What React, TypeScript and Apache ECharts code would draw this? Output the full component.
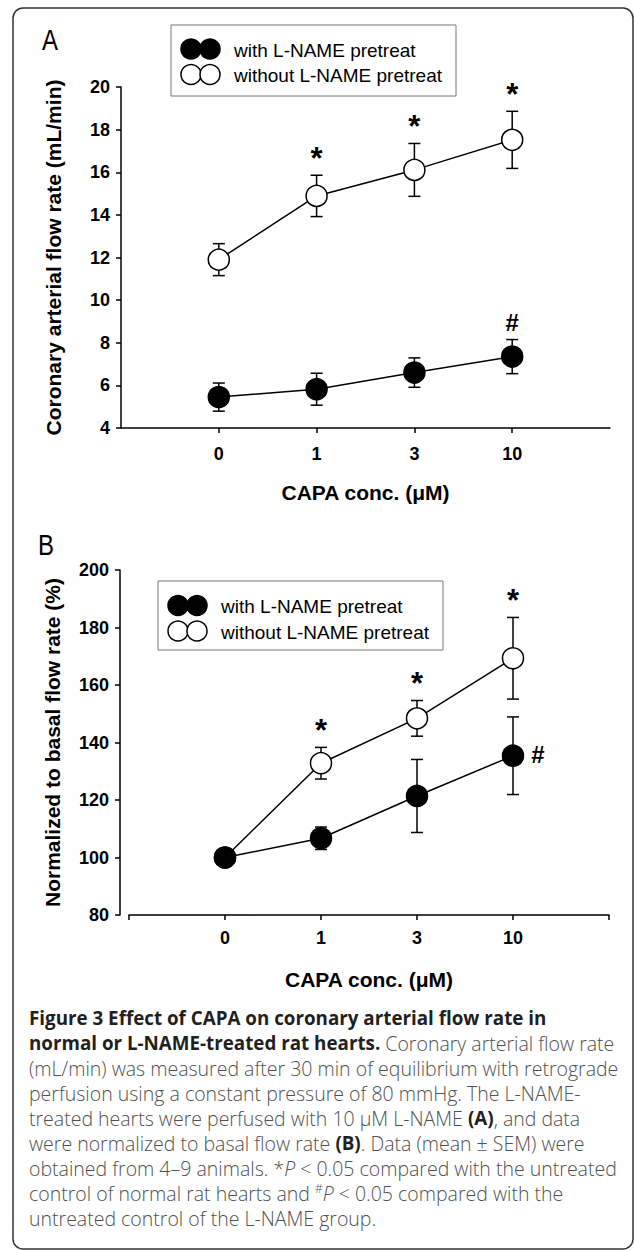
import React, { useEffect, useRef } from "react";
import * as echarts from "echarts";

// ---- data ----
const concLabels = ["0", "1", "3", "10"];
const catIndex = [0, 1, 2, 3];

// Panel A: coronary arterial flow rate (mL/min)
const aWithoutMean = [11.9, 14.89, 16.11, 17.52];
const aWithoutSem = [0.75, 0.97, 1.24, 1.34];
const aWithMean = [5.45, 5.82, 6.6, 7.35];
const aWithSem = [0.66, 0.75, 0.69, 0.8];
const aYTicks = { min: 4, max: 20, interval: 2 };

// Panel B: normalized to basal flow rate (%)
const bWithoutMean = [100, 132.8, 148.4, 169.3];
const bWithoutSem = [0, 5.5, 6.2, 14.2];
const bWithMean = [100, 106.7, 121.4, 135.4];
const bWithSem = [0, 3.9, 12.7, 13.5];
const bYTicks = { min: 80, max: 200, interval: 20 };

// significance marks: [category index, series ("with"/"without"), mark, placement]
const aMarks: [number, string, string, string][] = [
  [1, "without", "*", "above"],
  [2, "without", "*", "above"],
  [3, "without", "*", "above"],
  [3, "with", "#", "above"],
];
const bMarks: [number, string, string, string][] = [
  [1, "without", "*", "above"],
  [2, "without", "*", "above"],
  [3, "without", "*", "above"],
  [3, "with", "#", "right"],
];

const legendLabels = ["with L-NAME pretreat", "without L-NAME pretreat"];
const yTitleA = "Coronary arterial flow rate (mL/min)";
const yTitleB = "Normalized to basal flow rate (%)";
const xTitle = "CAPA conc. (\u03bcM)";

const captionLines = [
  "{b|Figure 3 Effect of CAPA on coronary arterial flow rate in}",
  "{b|normal or L-NAME-treated rat hearts.}{r| Coronary arterial flow rate}",
  "{r|(mL/min) was measured after 30 min of equilibrium with retrograde}",
  "{r|perfusion using a constant pressure of 80 mmHg. The L-NAME-}",
  "{r|treated hearts were perfused with 10 \u03bcM L-NAME }{b|(A)}{r|, and data}",
  "{r|were normalized to basal flow rate }{b|(B)}{r|. Data (mean \u00b1 SEM) were}",
  "{r|obtained from 4\u20139 animals. *}{i|P}{r| < 0.05 compared with the untreated}",
  "{r|control of normal rat hearts and }{s|#}{i|P}{r| < 0.05 compared with the}",
  "{r|untreated control of the L-NAME group.}",
];

const FONT = "'Liberation Sans', Arial, sans-serif";
const CAPFONT = "'Open Sans', 'Noto Sans', sans-serif";

function errorSeries(mean: number[], sem: number[], axisIdx: number) {
  return {
    type: "custom",
    xAxisIndex: axisIdx,
    yAxisIndex: axisIdx,
    z: 1,
    silent: true,
    data: catIndex.map((c, i) => [c, mean[i] - sem[i], mean[i] + sem[i]]),
    encode: { x: 0, y: [1, 2] },
    renderItem: (_p: any, api: any) => {
      const x = api.value(0);
      const lo = api.value(1);
      const hi = api.value(2);
      if (hi - lo <= 0) return { type: "group", children: [] };
      const pHi = api.coord([x, hi]);
      const pLo = api.coord([x, lo]);
      const cw = 6;
      const st = { stroke: "#000", lineWidth: 1.5 };
      return {
        type: "group",
        children: [
          { type: "line", shape: { x1: pHi[0], y1: pHi[1], x2: pLo[0], y2: pLo[1] }, style: st },
          { type: "line", shape: { x1: pHi[0] - cw, y1: pHi[1], x2: pHi[0] + cw, y2: pHi[1] }, style: st },
          { type: "line", shape: { x1: pLo[0] - cw, y1: pLo[1], x2: pLo[0] + cw, y2: pLo[1] }, style: st },
        ],
      };
    },
  };
}

function lineSeries(name: string, mean: number[], axisIdx: number, filled: boolean) {
  return {
    type: "line",
    name,
    xAxisIndex: axisIdx,
    yAxisIndex: axisIdx,
    z: filled ? 4 : 3,
    data: catIndex.map((c, i) => [c, mean[i]]),
    symbol: "circle",
    symbolSize: 21,
    lineStyle: { color: "#000", width: 1.5 },
    itemStyle: { color: filled ? "#000" : "#fff", borderColor: "#000", borderWidth: 1.5 },
  };
}

function markSeries(
  marks: [number, string, string, string][],
  withMean: number[],
  withSem: number[],
  withoutMean: number[],
  withoutSem: number[],
  axisIdx: number
) {
  return {
    type: "custom",
    xAxisIndex: axisIdx,
    yAxisIndex: axisIdx,
    z: 5,
    silent: true,
    data: marks.map((m) => {
      const i = m[0];
      const isWith = m[1] === "with";
      const mean = isWith ? withMean[i] : withoutMean[i];
      const sem = isWith ? withSem[i] : withoutSem[i];
      return [i, mean, mean + sem];
    }),
    encode: { x: 0, y: [1, 2] },
    renderItem: (p: any, api: any) => {
      const m = marks[p.dataIndex];
      const x = api.value(0);
      let px: number, py: number;
      if (m[3] === "right") {
        const c = api.coord([x, api.value(1)]);
        px = c[0] + 25;
        py = c[1] - 1;
      } else {
        const c = api.coord([x, api.value(2)]);
        px = c[0];
        py = c[1] - 17;
      }
      return {
        type: "text",
        x: px,
        y: py,
        style: {
          text: m[2],
          fill: "#000",
          font: m[2] === "*" ? `bold 31px ${FONT}` : `bold 24px ${FONT}`,
          align: "center",
          verticalAlign: "middle",
        },
      };
    },
  };
}

function legendGraphic(x: number, y: number, h: number, row1: number, row2: number) {
  const r = 10;
  const els: any[] = [
    { type: "rect", shape: { x, y, width: 285, height: h }, style: { fill: "#fff", stroke: "#777", lineWidth: 1 }, z: 10 },
  ];
  [row1, row2].forEach((ry, k) => {
    const filled = k === 0;
    [x + 20, x + 39].forEach((cx) => {
      els.push({
        type: "circle",
        shape: { cx, cy: ry, r },
        style: { fill: filled ? "#000" : "#fff", stroke: "#000", lineWidth: 1.5 },
        z: 11,
      });
    });
    els.push({
      type: "text",
      x: x + 63,
      y: ry + 1,
      style: { text: legendLabels[k], fill: "#000", font: `19px ${FONT}`, verticalAlign: "middle" },
      z: 11,
    });
  });
  return els;
}

export default function App() {
  const ref = useRef<HTMLDivElement>(null);
  useEffect(() => {
    if (!ref.current) return;
    const chart = echarts.init(ref.current, null, { renderer: "svg" });

    const xAxisBase = (gridIndex: number, labelMargin: number, tickVals: number[]) => ({
      type: "value",
      gridIndex,
      min: -1,
      max: 4,
      interval: 1,
      splitLine: { show: false },
      axisLine: { show: true, onZero: false, lineStyle: { color: "#000", width: 1.5 } },
      axisTick: { show: true, inside: false, length: 5, lineStyle: { color: "#000", width: 1.5 }, customValues: tickVals },
      axisLabel: {
        customValues: catIndex,
        formatter: (v: number) => concLabels[Math.round(v)] ?? "",
        color: "#000",
        fontFamily: FONT,
        fontWeight: "bold",
        fontSize: 18,
        margin: labelMargin,
      },
      name: xTitle,
      nameLocation: "middle",
      nameGap: 54,
      nameTextStyle: { color: "#000", fontFamily: FONT, fontWeight: "bold", fontSize: 21 },
    });

    const yAxisBase = (gridIndex: number, t: { min: number; max: number; interval: number }, title: string, offset: number) => ({
      type: "value",
      gridIndex,
      min: t.min,
      max: t.max,
      interval: t.interval,
      offset,
      splitLine: { show: false },
      axisLine: { show: true, onZero: false, lineStyle: { color: "#000", width: 1.5 } },
      axisTick: { show: true, inside: false, length: 5, lineStyle: { color: "#000", width: 1.5 } },
      axisLabel: { color: "#000", fontFamily: FONT, fontWeight: "bold", fontSize: 18, margin: 11 },
      name: title,
      nameLocation: "middle",
      nameGap: 57,
      nameTextStyle: { color: "#000", fontFamily: FONT, fontWeight: "bold", fontSize: 21 },
    });

    const captionEls = captionLines.map((t, i) => ({
      type: "text",
      x: 29,
      y: 1018 + 25 * i,
      style: {
        text: t,
        verticalAlign: "middle",
        rich: {
          b: { font: `bold 18.8px ${CAPFONT}`, fill: "#231f20", lineHeight: 22 },
          r: { font: `300 19.5px ${CAPFONT}`, fill: "#505050", lineHeight: 22 },
          i: { font: `italic 300 19.5px ${CAPFONT}`, fill: "#505050", lineHeight: 22 },
          s: { font: `300 12px ${CAPFONT}`, fill: "#505050", verticalAlign: "top", lineHeight: 14 },
        },
      },
    }));

    chart.setOption({
      animation: false,
      backgroundColor: "#fff",
      grid: [
        { left: 121, top: 87, width: 489, height: 341 },
        { left: 129, top: 570, width: 480, height: 345 },
      ],
      xAxis: [xAxisBase(0, 17, catIndex), xAxisBase(1, 14, [-1, 0, 1, 2, 3, 4])],
      yAxis: [yAxisBase(0, aYTicks, yTitleA, 0), yAxisBase(1, bYTicks, yTitleB, 9)],
      series: [
        errorSeries(aWithoutMean, aWithoutSem, 0),
        errorSeries(aWithMean, aWithSem, 0),
        lineSeries(legendLabels[1], aWithoutMean, 0, false),
        lineSeries(legendLabels[0], aWithMean, 0, true),
        markSeries(aMarks, aWithMean, aWithSem, aWithoutMean, aWithoutSem, 0),
        errorSeries(bWithoutMean, bWithoutSem, 1),
        errorSeries(bWithMean, bWithSem, 1),
        lineSeries(legendLabels[1], bWithoutMean, 1, false),
        lineSeries(legendLabels[0], bWithMean, 1, true),
        markSeries(bMarks, bWithMean, bWithSem, bWithoutMean, bWithoutSem, 1),
      ],
      graphic: [
        { type: "rect", shape: { x: 13, y: 8, width: 620, height: 1241, r: 10 }, style: { fill: "none", stroke: "#333", lineWidth: 1.5 } },
        { type: "text", x: 42, y: 40, scaleX: 0.8, style: { text: "A", font: `30px ${FONT}`, fill: "#000", verticalAlign: "middle" } },
        { type: "text", x: 38, y: 545, scaleX: 0.8, style: { text: "B", font: `30px ${FONT}`, fill: "#000", verticalAlign: "middle" } },
        ...legendGraphic(171, 25, 71, 49, 74.5),
        ...legendGraphic(158, 581, 69, 605.5, 631),
        ...captionEls,
      ],
    });
    return () => chart.dispose();
  }, []);
  return <div ref={ref} style={{ position: "absolute", left: 0, top: 0, width: 634, height: 1250 }} />;
}
